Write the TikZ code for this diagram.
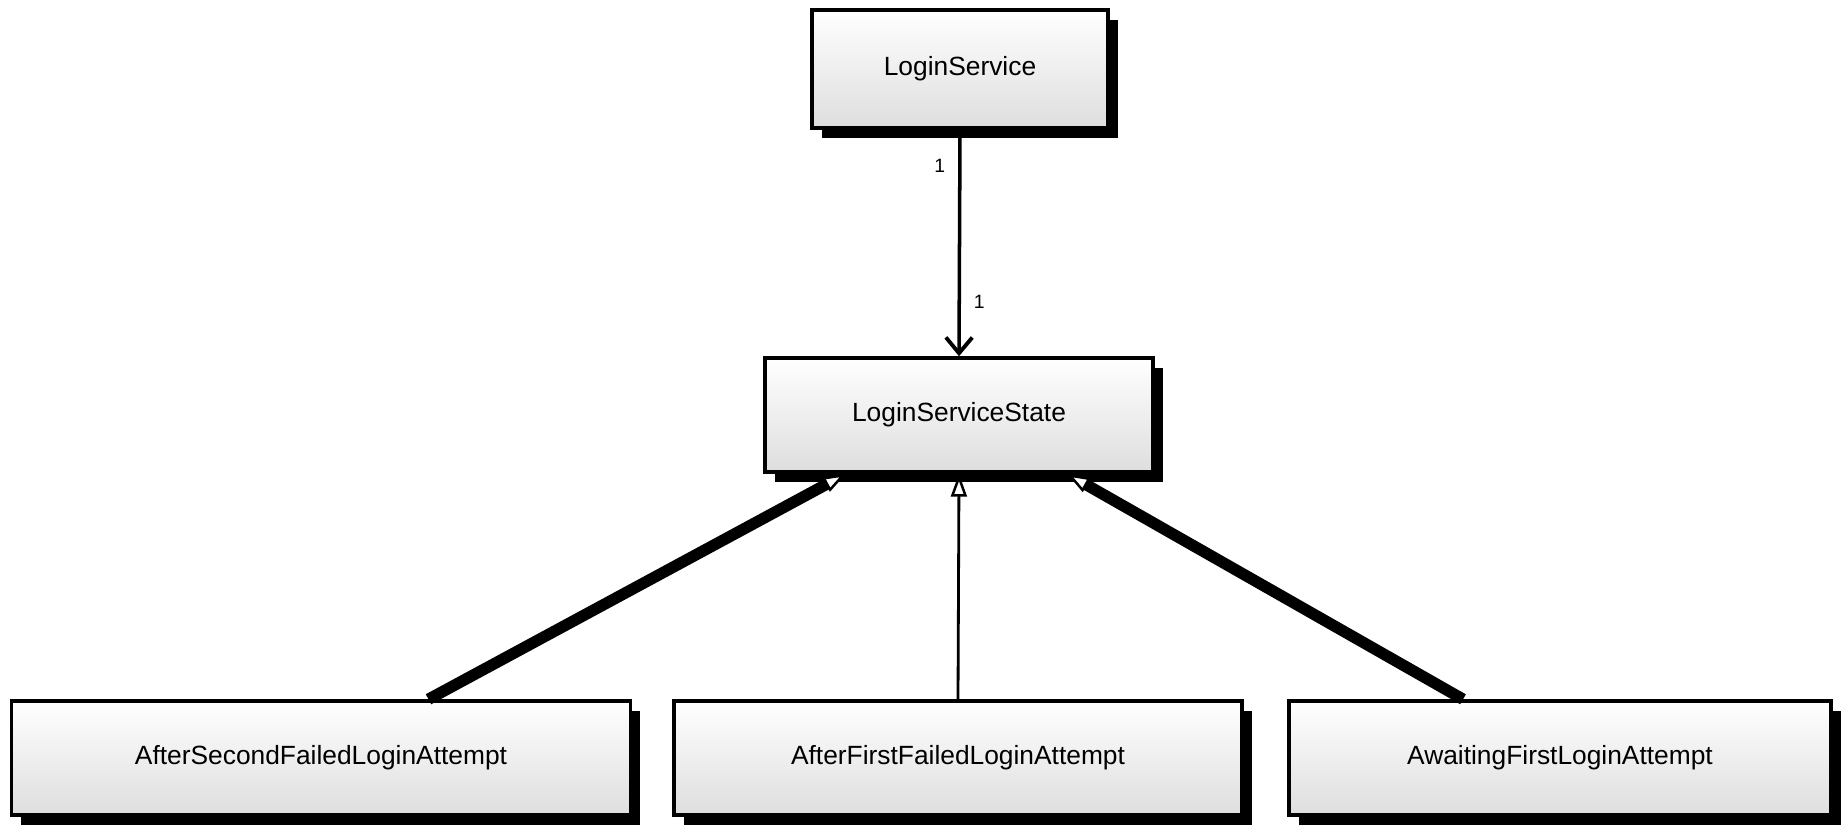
\documentclass[tikz,border=0pt]{standalone}
\usepackage{fontspec}
\setmainfont{Liberation Sans}
\usetikzlibrary{arrows.meta,positioning,shadows}

\begin{document}
\begin{tikzpicture}[x=0.02cm,y=-0.02cm,
  cls/.style={draw, line width=2pt, top color=white, bottom color=black!13, text=black,
    font=\fontsize{15}{17}\selectfont, minimum height=2.28cm,
    drop shadow={shadow xshift=5.5pt, shadow yshift=-5.5pt, opacity=1, fill=black}},
  assoc/.style={line width=2pt, -{Straight Barb[length=9pt, width=15pt, line width=2.2pt]}},
  inherit/.style={line width=1.6pt, -{Triangle[open, fill=white, length=13pt, width=9pt, line width=1.4pt]}},
  mult/.style={font=\fontsize{11}{13}\selectfont}]
  \path[use as bounding box] (0,0) rectangle (1843,825);
  \node[cls, minimum width=5.92cm, minimum height=2.36cm] (svc) at (960,69) {LoginService};
  \node[cls, minimum width=7.76cm] (state) at (959,415) {LoginServiceState};
  \node[cls, minimum width=12.38cm] (after2) at (321,758) {AfterSecondFailedLoginAttempt};
  \node[cls, minimum width=11.36cm] (after1) at (958,758) {AfterFirstFailedLoginAttempt};
  \node[cls, minimum width=10.84cm] (await) at (1560,758) {AwaitingFirstLoginAttempt};
  \draw[assoc] (svc.south) -- node[mult, pos=0.16, left=4pt] {1} node[mult, pos=0.76, right=4pt] {1} (state.north);
  \draw[inherit, line width=6.5pt] ([xshift=2.15cm]after2.north) -- ([xshift=-2.26cm]state.south);
  \draw[inherit] (after1.north) -- (state.south);
  \draw[inherit, line width=6.5pt] ([xshift=-1.94cm]await.north) -- ([xshift=2.16cm]state.south);
\end{tikzpicture}
\end{document}
